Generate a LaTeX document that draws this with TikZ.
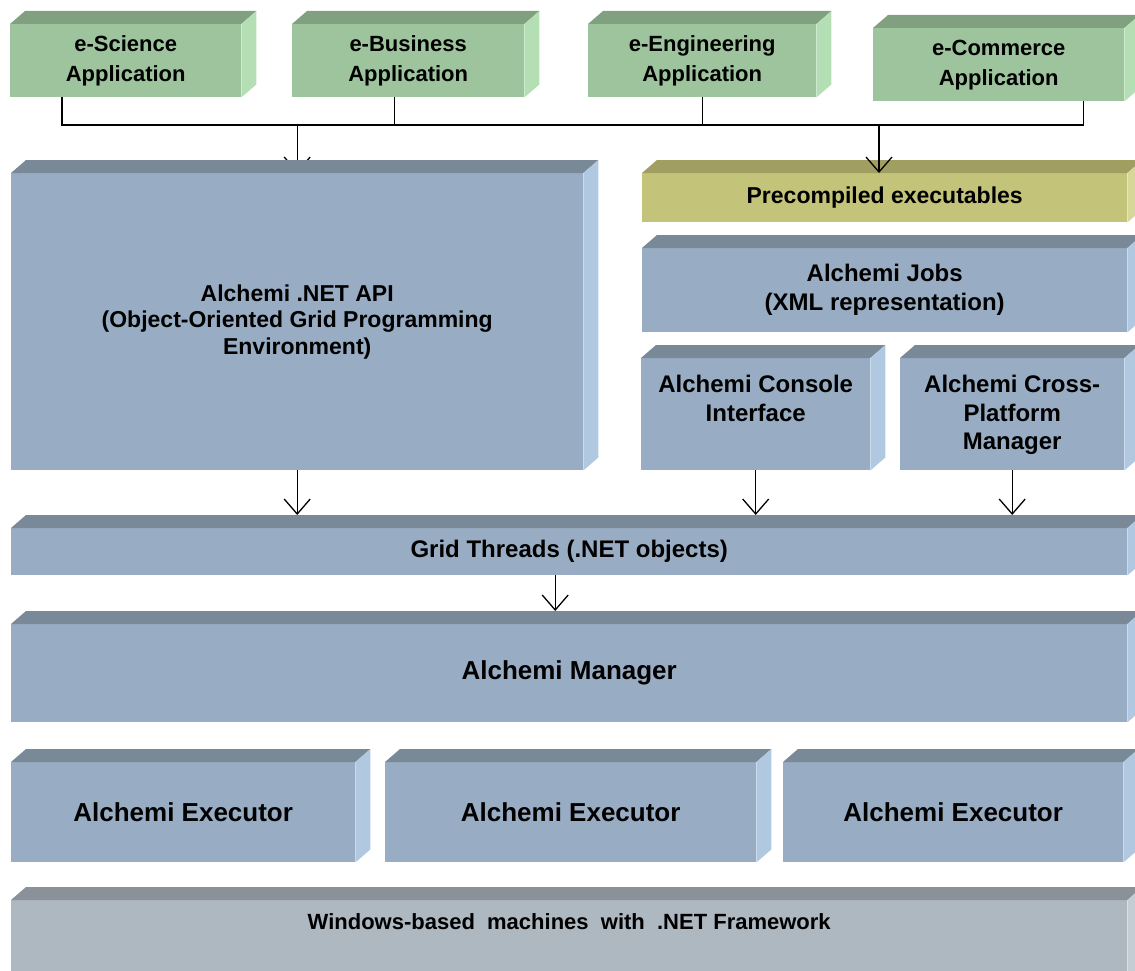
\documentclass[tikz,border=0pt]{standalone}
\usepackage{fontspec}
\setmainfont{Liberation Sans}
\usetikzlibrary{arrows.meta}
\pgfdeclarelayer{bg}
\pgfsetlayers{bg,main}

\definecolor{slabfront}{HTML}{98ADC3}
\definecolor{slabtop}{HTML}{7A8998}
\definecolor{slabside}{HTML}{B0C8E0}
\definecolor{appfront}{HTML}{9DC49D}
\definecolor{apptop}{HTML}{80A080}
\definecolor{appside}{HTML}{B4DFB4}
\definecolor{exefront}{HTML}{C4C37A}
\definecolor{exetop}{HTML}{A09E60}
\definecolor{exeside}{HTML}{D8D79A}
\definecolor{osfront}{HTML}{AEB8C1}
\definecolor{ostop}{HTML}{8A9199}
\definecolor{osside}{HTML}{C4CCD4}

% top and right faces of a slab node
\newcommand{\slabfaces}[3]{%
  \fill[#2] (#1.north west) -- ++(\depx,\depy) -- ([shift={(\depx,\depy)}]#1.north east) -- (#1.north east) -- cycle;
  \fill[#3] (#1.north east) -- ++(\depx,\depy) -- ([shift={(\depx,\depy)}]#1.south east) -- (#1.south east) -- cycle;
}

\begin{document}
\begin{tikzpicture}[x=1pt, y=1pt,
  slab/.style={
    anchor=north west, inner sep=0pt, fill=slabfront,
    font=\fontsize{24}{29}\selectfont\bfseries, align=center
  },
  app/.style={slab, fill=appfront, font=\fontsize{22}{30}\selectfont\bfseries},
  big/.style={font=\fontsize{26}{30}\selectfont\bfseries},
  toptext/.style={inner sep=0pt, anchor=north, align=center,
    font=\fontsize{24}{28.5}\selectfont\bfseries},
  wire/.style={line width=1.3pt},
  arr/.style={wire, -{Straight Barb[length=15pt, width=26pt]}}
]
\def\depx{15} % depth of the slabs
\def\depy{13}

\useasboundingbox (0,0) rectangle (1135,-971);
\clip (0,0) rectangle (1135,-971);

% --- applications ---
\node[app, minimum width=231pt, minimum height=73pt] (sci) at (10,-24) {e-Science\\Application};
\node[app, minimum width=232pt, minimum height=73pt] (bus) at (292,-24) {e-Business\\Application};
\node[app, minimum width=228pt, minimum height=73pt] (eng) at (588,-24) {e-Engineering\\Application};
\node[app, minimum width=251pt, minimum height=73pt] (com) at (873,-28) {e-Commerce\\Application};

% --- programming layer ---
\node[slab, font=\fontsize{23}{26.5}\selectfont\bfseries, minimum width=572pt, minimum height=297pt] (api) at (11,-173)
  {Alchemi .NET API\\(Object-Oriented Grid Programming\\Environment)};
\node[slab, fill=exefront, font=\fontsize{23}{28}\selectfont\bfseries, minimum width=485pt, minimum height=49pt] (pre) at (642,-173) {Precompiled executables};
\node[slab, minimum width=485pt, minimum height=84pt] (jobs) at (642,-248) {Alchemi Jobs\\(XML representation)};
\node[slab, minimum width=229pt, minimum height=112pt,
  label={[toptext, yshift=-17pt]north:{Alchemi Console\\Interface}}] (con) at (641,-358) {};
\node[slab, minimum width=224pt, minimum height=112pt,
  label={[toptext, yshift=-17pt]north:{Alchemi Cross-\\Platform\\Manager}}] (xpm) at (900,-358) {};

% --- middleware ---
\node[slab, minimum width=1116pt, minimum height=47pt] (grid) at (11,-528) {Grid Threads (.NET objects)};
\node[slab, big, minimum width=1116pt, minimum height=98pt] (mgr) at (11,-624) {Alchemi Manager};
\node[slab, big, minimum width=344pt, minimum height=100pt] (ex1) at (11,-762) {Alchemi Executor};
\node[slab, big, minimum width=371pt, minimum height=100pt] (ex2) at (385,-762) {Alchemi Executor};
\node[slab, big, minimum width=340pt, minimum height=100pt] (ex3) at (783,-762) {Alchemi Executor};
\node[slab, fill=osfront, minimum width=1116pt, minimum height=100pt,
  label={[toptext, font=\fontsize{22}{28}\selectfont\bfseries, yshift=-13pt]north:{Windows-based \ machines \ with \ .NET Framework}}] (win) at (11,-900) {};

\foreach \n in {sci,bus,eng,com} {\slabfaces{\n}{apptop}{appside}}
\foreach \n in {api,jobs,con,xpm,grid,mgr,ex1,ex2,ex3} {\slabfaces{\n}{slabtop}{slabside}}
\slabfaces{pre}{exetop}{exeside}
\slabfaces{win}{ostop}{osside}

% --- connectors ---
\coordinate (rail) at (0,-125);
\coordinate (sciDrop) at ([xshift=52pt]sci.south west);
\coordinate (busDrop) at ([xshift=-14pt]bus.south);
\coordinate (comDrop) at ([xshift=-41pt]com.south east);
\coordinate (preDrop) at ([xshift=237pt]pre.north west);
\coordinate (gridOut) at ([xshift=-14pt]grid.south);

\draw[wire] (sciDrop) |- (rail -| comDrop) -- (comDrop);
\draw[wire] (busDrop) -- (busDrop |- rail);
\draw[wire] (eng.south) -- (eng.south |- rail);
\begin{pgfonlayer}{bg}
  \draw[arr] (rail -| api.north) -- (api.north);
\end{pgfonlayer}
\draw[arr] (rail -| preDrop) -- (preDrop);

\draw[arr, shorten >=13pt] (api.south) -- (api.south |- grid.north);
\draw[arr, shorten >=13pt] (con.south) -- (con.south |- grid.north);
\draw[arr, shorten >=13pt] (xpm.south) -- (xpm.south |- grid.north);
\draw[arr, shorten >=13pt] (gridOut) -- (gridOut |- mgr.north);
\end{tikzpicture}
\end{document}
